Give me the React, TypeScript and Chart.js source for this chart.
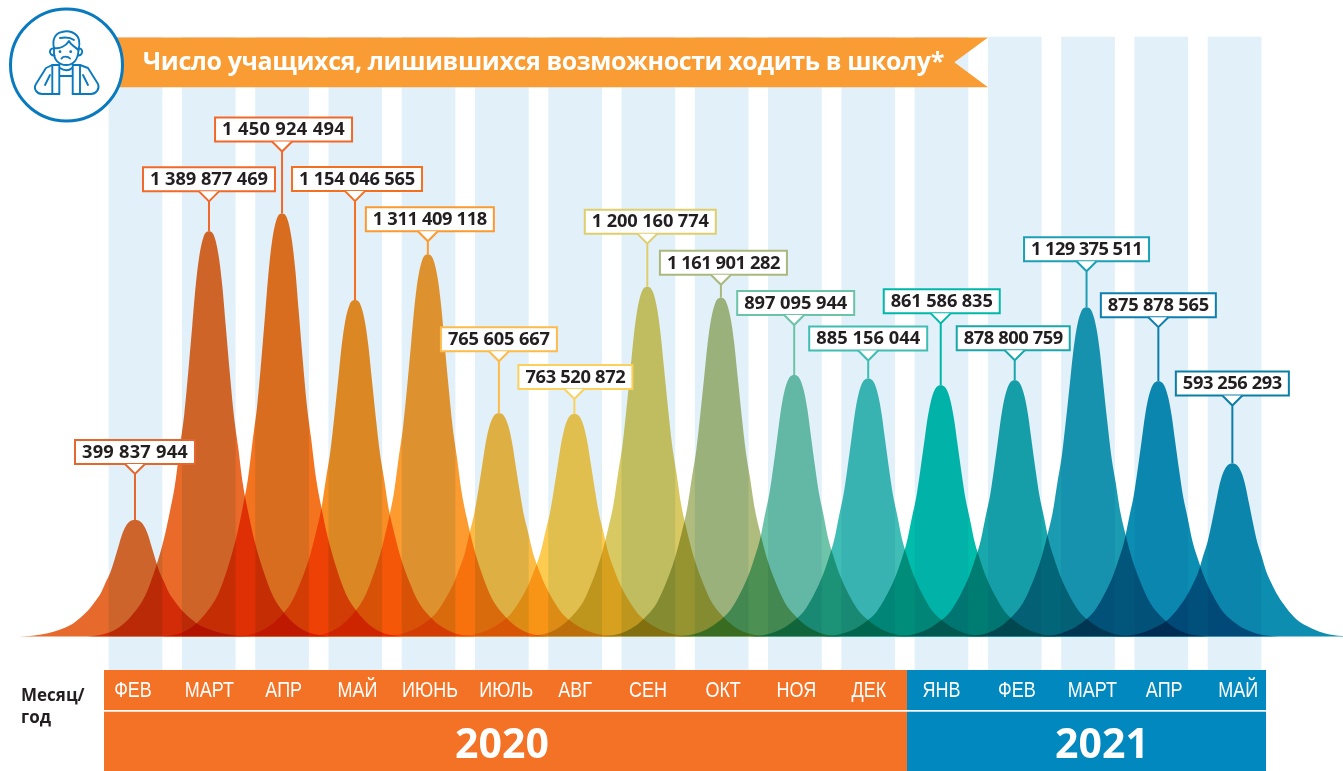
import React, { useEffect, useRef } from "react";
import { Chart, registerables } from "chart.js";

Chart.register(...registerables);

// Values
const months = ["ФЕВ","МАРТ","АПР","МАЙ","ИЮНЬ","ИЮЛЬ","АВГ","СЕН","ОКТ","НОЯ","ДЕК","ЯНВ","ФЕВ","МАРТ","АПР","МАЙ"];
const learners = [399837944,1389877469,1450924494,1154046565,1311409118,765605667,763520872,1200160774,1161901282,897095944,885156044,861586835,878800759,1129375511,875878565,593256293];
const years = ["2020","2021"];

// Where each peak stands on the month axis
const peakCentres = [-0.007,1.003,2,2.996,3.99,4.96,5.99,6.985,7.99,8.99,10,10.99,12,12.98,13.96,14.97];

// Shape of one peak: distance from the peak in months, share of the peak
const peakDistance = [0,0.077,0.136,0.182,0.227,0.282,0.337,0.396,0.464,0.532,0.623,0.737,0.873,1.01,1.19,1.374,1.51,1.66];
const peakShare = [1,0.985,0.935,0.865,0.77,0.655,0.55,0.47,0.375,0.31,0.235,0.165,0.1,0.062,0.028,0.009,0.003,0];

// Month-label tick positions as placed in the picture
const monthTicks = [-0.034,1.007,2.023,3.03,4.02,5.06,6,6.995,8.02,9.02,10.01,11,12.03,13.06,14.04,15.05];

const fillColors = ["#E66A2C","#E96A29","#F4731F","#F88F24","#FB9B30","#FBBB44","#FDCB50","#D9C962","#AFBC7E","#6EC4A8","#40BEB5","#00BDAB","#18A8AC","#1A9BB2","#0C8EB2","#0D8DB0"];
const lineColors = ["#E4672D","#F0692A","#F0692A","#F37021","#FA9A30","#FCBB4A","#FBD05C","#DFCE6B","#A9B97E","#6CC3A6","#3FBDB3","#00B8A9","#1AA7AC","#1BA0B5","#0E7EB0","#0B7EA6"];
const labelLift = [46,30,62,99,13,52,15,43,13,50,18,62,20,36,54,58];
const labelCentreShift = [0,0,1.5,2,2,0,1,3,2.5,1.5,0,1,-1.5,0,0,0];
const labelWidth = [120,132,137,130,128,116,114,131,127,117,118,116,113,125,115,113];

const W = 1343, H = 771;
const formatValue = (v: number) => String(v).replace(/\B(?=(\d{3})+(?!\d))/g, " ");

function drawIcon(c: CanvasRenderingContext2D) {
  c.save();
  c.strokeStyle = "#0A7ABF"; c.lineWidth = 1.9; c.lineCap = "round"; c.lineJoin = "round";
  const p = (d: string) => c.stroke(new Path2D(d));
  p("M54 48 C52 40 55 33 62 32 C68 30 77 32 79 40 C80 44 79 48 78.5 50");
  p("M54 48 C60 49 66 46 69 41 C71 45 75 47 78.5 50");
  p("M60 38 C65 37 70 37 74 40");
  p("M54 48 L54 53 C54 60 59 65 66 65 C73 65 78 60 78.5 50");
  p("M54 48.5 C49 47.5 48 55.5 54.5 55.5");
  p("M78.5 48.5 C83 47.5 84 55.5 78 55.5");
  p("M61.5 58.5 C63 56 68 56 70 58.5");
  p("M52.3 65 L46 68 L36 84 C33 89 37 94 42 94 L59.3 94");
  p("M80 65 L88 68 L98 84 C100 89 96 94 91 94 L72.7 94");
  p("M52.3 65 L59.3 65 L59.3 94 M52.3 65 L52.3 94");
  p("M80 65 L72.7 65 L72.7 94 M80 65 L80 94");
  p("M45 85 L50 75 M88 85 L83 75");
  p("M60 68 C64 71 69 71 72 68");
  p("M60 76 L72 76");
  c.fillStyle = "#0A7ABF";
  c.beginPath(); c.arc(60, 51.7, 1.4, 0, 7); c.arc(70.7, 51.7, 1.4, 0, 7); c.fill();
  c.restore();
}

const chrome = {
  id: "chrome",
  beforeDraw(chart: any) {
    const c = chart.ctx;
    c.save();
    c.fillStyle = "#F47225"; c.fillRect(104, 670, 803, 101);
    c.fillStyle = "#0088BF"; c.fillRect(907, 670, 359, 101);
    c.fillStyle = "#FFFFFF"; c.fillRect(104, 710, 1162, 1.7);
    c.restore();
  },
  beforeDatasetsDraw(chart: any) { chart.ctx.globalCompositeOperation = "multiply"; },
  afterDatasetsDraw(chart: any) { chart.ctx.globalCompositeOperation = "source-over"; },
  afterDraw(chart: any) {
    const c = chart.ctx;
    const sx = chart.scales.x, sy = chart.scales.y;
    c.save();
    // banner
    c.fillStyle = "#F99C33";
    c.beginPath();
    c.moveTo(100, 37.5); c.lineTo(988, 37.5); c.lineTo(954.3, 62.3); c.lineTo(988, 87.3); c.lineTo(100, 87.3);
    c.closePath(); c.fill();
    c.fillStyle = "#FFFFFF";
    c.font = 'bold 25px "Open Sans"';
    c.textAlign = "left"; c.textBaseline = "middle";
    (c as any).letterSpacing = "-0.4px";
    c.fillText("Число учащихся, лишившихся возможности ходить в школу*", 143, 63);
    (c as any).letterSpacing = "0px";
    // badge
    c.beginPath(); c.arc(66.5, 65, 56, 0, Math.PI * 2);
    c.fillStyle = "#FFFFFF"; c.fill();
    c.lineWidth = 3; c.strokeStyle = "#0A7ABF"; c.stroke();
    drawIcon(c);
    // month labels sit on the axis ticks
    c.fillStyle = "#FFFFFF"; c.textAlign = "center"; c.font = '22.5px "Liberation Sans"';
    monthTicks.forEach((t, i) => {
      c.save();
      c.translate(sx.getPixelForValue(t), 691);
      c.scale(0.8, 1);
      c.fillText(months[i], 0, 0);
      c.restore();
    });
    // callouts
    c.font = 'bold 18.3px "Open Sans"';
    learners.forEach((v, i) => {
      const px = sx.getPixelForValue(peakCentres[i]);
      const top = sy.getPixelForValue(v);
      const apex = top - labelLift[i];
      const text = formatValue(v);
      const w = labelWidth[i];
      const boxH = 24;
      const bottom = apex - 10;
      const left = px - w / 2 + labelCentreShift[i];
      c.strokeStyle = lineColors[i]; c.lineWidth = 2; c.lineJoin = "miter";
      c.fillStyle = "#FFFFFF";
      c.beginPath();
      c.rect(left, bottom - boxH, w, boxH);
      c.fill(); c.stroke();
      c.beginPath();
      c.moveTo(px - 10, bottom); c.lineTo(px, apex); c.lineTo(px + 10, bottom);
      c.closePath(); c.fill();
      c.beginPath();
      c.moveTo(px - 10, bottom); c.lineTo(px, apex); c.lineTo(px + 10, bottom);
      c.moveTo(px, apex); c.lineTo(px, top);
      c.stroke();
      c.fillStyle = "#231F20"; c.textAlign = "center";
      const natural = c.measureText(text).width;
      (c as any).letterSpacing = ((w - 14 - natural) / text.length).toFixed(3) + "px";
      c.fillText(text, left + w / 2, bottom - boxH / 2 + 0.5);
      (c as any).letterSpacing = "0px";
    });
    // axis caption and years
    c.fillStyle = "#231F20"; c.textAlign = "left"; c.font = 'bold 17px "Open Sans"';
    c.fillText("Месяц/", 21, 696); c.fillText("год", 21, 718);
    c.fillStyle = "#FFFFFF"; c.textAlign = "center"; c.font = 'bold 41px "Open Sans"';
    c.fillText(years[0], 502, 746); c.fillText(years[1], 1102, 746);
    c.restore();
  },
};

export default function App() {
  const ref = useRef<HTMLCanvasElement>(null);
  useEffect(() => {
    document.body.style.margin = "0";
    const perValue = 0.2915e-6;
    const zeroPx = 636.5, bottomPx = 670, stripeTopPx = 37;
    const xStep = 73.27, xStart = 135.5;
    const stripeLow = -(bottomPx - zeroPx) / perValue;
    const stripeHigh = (zeroPx - stripeTopPx) / perValue;
    const bellData = (peak: number, centre: number) => {
      const left = peakDistance.slice(1).reverse().map((d, k) => ({ x: centre - d, y: peak * peakShare[peakShare.length - 1 - k] }));
      const right = peakDistance.map((d, k) => ({ x: centre + d, y: peak * peakShare[k] }));
      return [...left, ...right];
    };
    const chart = new Chart(ref.current!, {
      data: {
        datasets: [
          {
            type: "bar",
            data: learners.map((_, i) => ({ x: i, y: [stripeLow, stripeHigh] })),
            backgroundColor: "#E2F0F9",
            barThickness: 53,
            order: 100,
          } as any,
          ...learners.map((v, i) => ({
            type: "line",
            data: bellData(v, peakCentres[i]),
            backgroundColor: fillColors[i],
            borderWidth: 0,
            pointRadius: 0,
            fill: "origin",
            cubicInterpolationMode: "monotone",
            order: 16 - i,
          })) as any,
        ],
      },
      options: {
        animation: false,
        responsive: false,
        layout: { padding: 0 },
        plugins: { legend: { display: false }, tooltip: { enabled: false } },
        scales: {
          x: {
            type: "linear",
            offset: false,
            min: -xStart / xStep,
            max: (W - xStart) / xStep,
            grid: { display: false, offset: false },
            border: { display: false },
            afterBuildTicks: (s: any) => { s.ticks = monthTicks.map((value) => ({ value })); },
            afterFit: (s: any) => { s.height = H - bottomPx; },
            ticks: {
              display: false,
              autoSkip: false,
              callback: (_: any, i: number) => months[i],
            },
          },
          y: {
            display: false,
            min: stripeLow,
            max: zeroPx / perValue,
          },
        },
      },
      plugins: [chrome],
    } as any);
    return () => chart.destroy();
  }, []);
  return <canvas ref={ref} width={W} height={H} style={{ display: "block" }} />;
}
